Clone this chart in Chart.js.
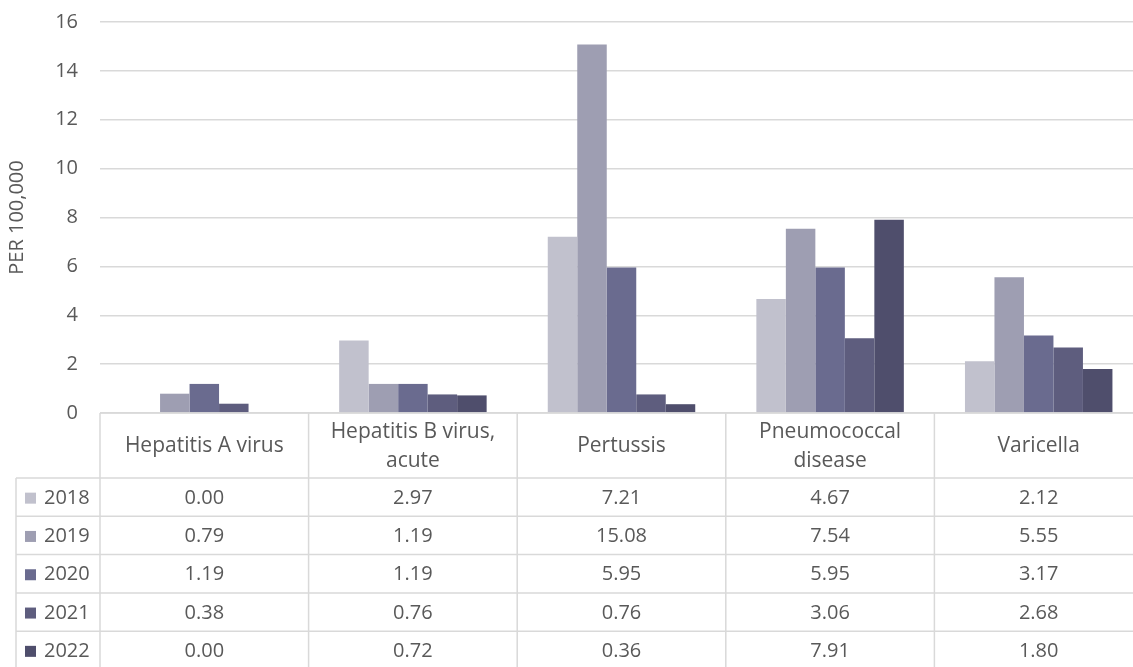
<!DOCTYPE html>
<html>
<head>
<meta charset="utf-8">
<script src="https://cdn.jsdelivr.net/npm/chart.js@4.4.1/dist/chart.umd.min.js"></script>
<style>
  html, body { margin: 0; padding: 0; background: #fff; overflow: hidden; }
  #wrap { position: relative; width: 1143px; height: 667px; }
</style>
</head>
<body>
<div id="wrap"><canvas id="c"></canvas></div>
<script>
const categories = ['Hepatitis A virus', ['Hepatitis B virus,', 'acute'], 'Pertussis', ['Pneumococcal', 'disease'], 'Varicella'];
const years = ['2018', '2019', '2020', '2021', '2022'];
const v2018 = [0.00, 2.97, 7.21, 4.67, 2.12];
const v2019 = [0.79, 1.19, 15.08, 7.54, 5.55];
const v2020 = [1.19, 1.19, 5.95, 5.95, 3.17];
const v2021 = [0.38, 0.76, 0.76, 3.06, 2.68];
const v2022 = [0.00, 0.72, 0.36, 7.91, 1.80];
const seriesValues = [v2018, v2019, v2020, v2021, v2022];
const colors = ['#c1c1cd', '#9e9eb2', '#6a6b8f', '#5e5d7e', '#4f4e6c'];
const yMin = 0, yMax = 16, yStep = 2;
const axisTitle = 'PER 100,000';

const FONT = "'Open Sans', sans-serif";
const TEXT = '#595959';
const LINE = '#d9d9d9';

const tablePlugin = {
  id: 'dataTable',
  afterDraw(chart) {
    const ctx = chart.ctx;
    const xs = chart.scales.x;
    const ca = chart.chartArea;
    const n = categories.length;
    const catW = (ca.right - ca.left) / n;
    const top = ca.bottom;
    const headerH = 65;
    const rowH = 38.3;
    const legLeft = 16;
    const tableBottom = top + headerH + rowH * years.length + 2;
    ctx.save();
    ctx.strokeStyle = LINE;
    ctx.lineWidth = 1.5;
    ctx.beginPath();
    ctx.moveTo(ca.left, top); ctx.lineTo(ca.right, top);
    for (let r = 0; r <= years.length; r++) {
      const y = top + headerH + r * rowH;
      ctx.moveTo(legLeft, y); ctx.lineTo(ca.right, y);
    }
    for (let i = 0; i <= n; i++) {
      const x = ca.left + i * catW;
      ctx.moveTo(x, top); ctx.lineTo(x, tableBottom);
    }
    ctx.moveTo(legLeft, top + headerH); ctx.lineTo(legLeft, tableBottom);
    ctx.stroke();

    ctx.fillStyle = TEXT;
    ctx.textAlign = 'center';
    ctx.textBaseline = 'middle';
    ctx.font = '21px ' + FONT;
    categories.forEach((c, i) => {
      const cx = xs.getPixelForValue(i);
      const lines = Array.isArray(c) ? c : [c];
      const lh = 29;
      const cy = top + headerH / 2 + 1;
      lines.forEach((l, k) => {
        ctx.fillText(l, cx, cy + (k - (lines.length - 1) / 2) * lh);
      });
    });
    ctx.font = '20px ' + FONT;
    years.forEach((yr, r) => {
      const cy = top + headerH + r * rowH + rowH / 2 + 1;
      seriesValues[r].forEach((v, i) => {
        ctx.fillText(v.toFixed(2), xs.getPixelForValue(i), cy);
      });
      ctx.fillStyle = colors[r];
      ctx.fillRect(25, cy - 5.5, 11, 11);
      ctx.fillStyle = TEXT;
      ctx.textAlign = 'left';
      ctx.fillText(yr, 44, cy);
      ctx.textAlign = 'center';
    });
    ctx.restore();
  }
};

new Chart(document.getElementById('c'), {
  type: 'bar',
  data: {
    labels: categories,
    datasets: years.map((yr, i) => ({
      label: yr,
      data: seriesValues[i],
      backgroundColor: colors[i],
      borderWidth: 0,
      barPercentage: 1.0,
      categoryPercentage: 0.707
    }))
  },
  options: {
    responsive: true,
    maintainAspectRatio: false,
    animation: false,
    layout: { padding: { top: 22, bottom: 254, left: 0, right: 0 } },
    plugins: { legend: { display: false }, tooltip: { enabled: false } },
    scales: {
      x: { display: false },
      y: {
        min: yMin, max: yMax,
        ticks: { stepSize: yStep, color: TEXT, font: { family: FONT, size: 20 }, padding: 0 },
        grid: { color: LINE, lineWidth: 1.5, drawTicks: true, tickLength: 22, tickColor: 'rgba(0,0,0,0)' },
        border: { display: false },
        title: { display: true, text: axisTitle, color: TEXT, font: { family: FONT, size: 20 }, padding: { top: 5, bottom: 0 } },
        afterFit(scale) { scale.width = 100; }
      }
    }
  },
  plugins: [tablePlugin]
});
</script>
</body>
</html>
